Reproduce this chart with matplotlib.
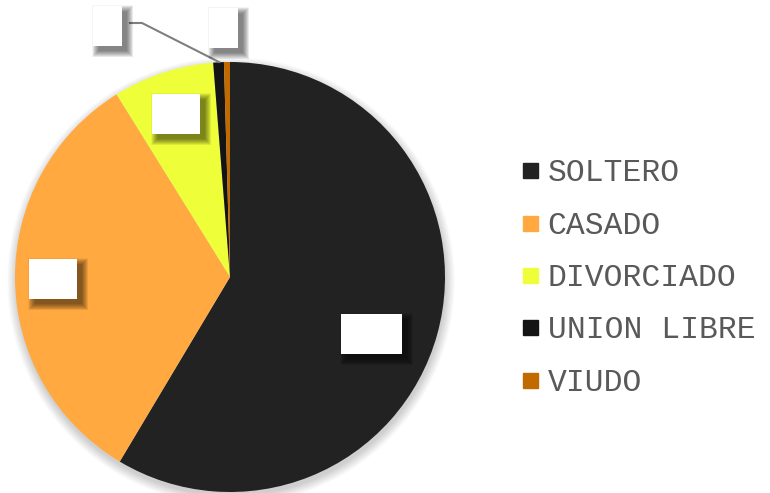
import matplotlib
matplotlib.use("Agg")
import matplotlib.pyplot as plt
from matplotlib.patches import Rectangle, Circle
from matplotlib.lines import Line2D

categories = ["SOLTERO", "CASADO", "DIVORCIADO", "UNION LIBRE", "VIUDO"]
values = [58.6, 32.6, 7.6, 0.8, 0.45]
colors = ["#222222", "#FFA940", "#EEFF3A", "#141414", "#C06A00"]

# label box layout (pixel coords: x0, y0 top, w, h)
label_boxes = [(341, 314, 61, 40), (29, 259, 48, 40), (152, 94, 48, 40),
               (93, 6, 29, 40), (209, 8, 29, 40)]

W, H = 770, 493
fig = plt.figure(figsize=(W / 100, H / 100), dpi=100)
ax = fig.add_axes([0, 0, 1, 1])

cx, cy, r = 230, H - 277, 215

# soft pie shadow
for i in range(12):
    ax.add_patch(Circle((cx + 1, cy - 4), r + i * 0.8, color="#000000",
                        alpha=0.016, lw=0, zorder=0))

ax.pie(values, colors=colors, startangle=90, counterclock=False,
       center=(cx, cy), radius=r, frame=True,
       wedgeprops=dict(linewidth=0))
ax.set_xlim(0, W)
ax.set_ylim(0, H)
ax.set_aspect("equal")
ax.axis("off")

# leader line for UNION LIBRE
ax.plot([130, 142, 219], [H - 23, H - 23, H - 62], color="#7f7f7f", lw=1.5, zorder=3)

for (x0, y0, w, h) in label_boxes:
    n = 14
    for i in range(n):
        e = 6 - i * 0.5
        ax.add_patch(Rectangle((x0 + 5 - e, H - y0 - h - 5 - e),
                               w + 2 * e, h + 2 * e,
                               color="#000000", alpha=0.045, lw=0, zorder=4))
    ax.add_patch(Rectangle((x0, H - y0 - h), w, h, color="white", lw=0, zorder=5))

handles = [Line2D([], [], marker="s", linestyle="none", markersize=10.8,
                  markerfacecolor=c, markeredgecolor=c) for c in colors]
leg = ax.legend(handles, categories, loc="center left", bbox_to_anchor=(521 / W, 1 - 278 / H),
                frameon=False, prop=dict(family="Liberation Mono", size=22.6),
                labelcolor="#595959", handlelength=0.6, handletextpad=0.25,
                labelspacing=0.71, borderpad=0, borderaxespad=0)

fig.savefig("out.png", dpi=100)
